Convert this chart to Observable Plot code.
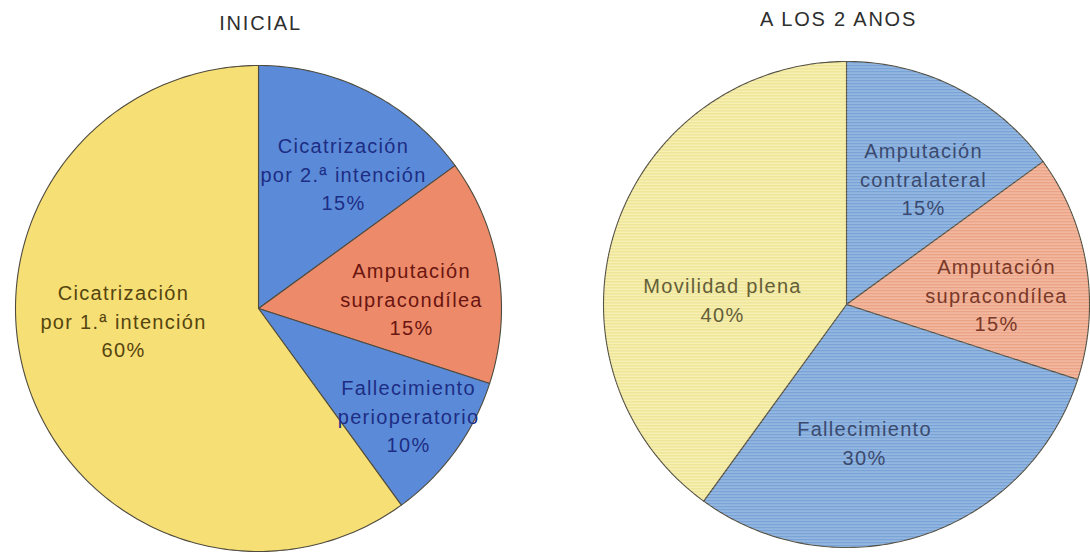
<!DOCTYPE html>
<html>
<head>
<meta charset="utf-8">
<script src="https://cdn.jsdelivr.net/npm/d3@7"></script>
<script src="https://cdn.jsdelivr.net/npm/@observablehq/plot@0.6"></script>
<style>
  html, body { margin: 0; padding: 0; background: #ffffff; }
  #chart svg { display: block; }
</style>
</head>
<body>
<div id="chart"></div>
<script>
// Pie titles
const titles = ["INICIAL", "A LOS 2 ANOS"];

// Initial outcome (slices clockwise from 12 o'clock)
const inicialLabels = [
  "Cicatrización\npor 2.ª intención",
  "Amputación\nsupracondílea",
  "Fallecimiento\nperioperatorio",
  "Cicatrización\npor 1.ª intención"
];
const inicialValues = [15, 15, 10, 60];

// Outcome after two years (slices clockwise from 12 o'clock)
const dosAnosLabels = [
  "Amputación\ncontralateral",
  "Amputación\nsupracondílea",
  "Fallecimiento",
  "Movilidad plena"
];
const dosAnosValues = [15, 15, 30, 40];

// ---- styling and layout ----
const W = 1090, H = 558;
const R = 243;                                  // pie radius, px
const pieCenters = [[258, 308], [846, 304]];    // px
const sliceFills = [
  ["#5b8bd8", "#ec8a69", "#5b8bd8", "#f6df74"],
  ["#7ea9de", "#f2a98a", "#7ea9de", "#f6ed9e"]
];
const labelInk = [
  ["#1d2d84", "#6a1510", "#1d2d84", "#55440f"],
  ["#3a4a6e", "#7a3828", "#3a4a6e", "#645e38"]
];
// label block centres, px offset from pie centre
const labelOffsets = [
  [[85, -136], [153, -11], [150, 106], [-135, 11]],
  [[77, -127], [150, -11], [18, 137], [-124, -6]]
];
const titleOffsets = [[2, -285], [-8, -285]];
const labelTracking = "1.3px";
const titleTracking = "1.8px";

// 1 unit = R px, origin at the centre of the first pie, y up
const toUnits = ([px, py]) => [(px - pieCenters[0][0]) / R, (pieCenters[0][1] - py) / R];
const xDomain = [toUnits([0, 0])[0], toUnits([W, 0])[0]];
const yDomain = [toUnits([0, H])[1], toUnits([0, 0])[1]];

const pies = [
  {title: titles[0], labels: inicialLabels, values: inicialValues},
  {title: titles[1], labels: dosAnosLabels, values: dosAnosValues}
];

const slicePts = [];
const labelRows = [];
const titleRows = [];
pies.forEach((p, i) => {
  const [cx, cy] = toUnits(pieCenters[i]);
  const total = d3.sum(p.values);
  const arcs = d3.pie().sort(null)(p.values);
  arcs.forEach((a, j) => {
    const id = `${i}-${j}`;
    const fill = sliceFills[i][j];
    const steps = Math.max(2, Math.ceil((a.endAngle - a.startAngle) / (Math.PI / 180)));
    slicePts.push({id, pie: i, fill, x: cx, y: cy});
    for (let k = 0; k <= steps; ++k) {
      const t = a.startAngle + (a.endAngle - a.startAngle) * k / steps;
      slicePts.push({id, pie: i, fill, x: cx + Math.sin(t), y: cy + Math.cos(t)});
    }
    slicePts.push({id, pie: i, fill, x: cx, y: cy});
    const [dx, dy] = labelOffsets[i][j];
    labelRows.push({
      x: cx + dx / R,
      y: cy - dy / R,
      ink: labelInk[i][j],
      text: `${p.labels[j]}\n${Math.round(100 * p.values[j] / total)}%`
    });
  });
  const [tx, ty] = titleOffsets[i];
  titleRows.push({x: cx + tx / R, y: cy - ty / R, text: p.title});
});

// fine horizontal print lines used on the second pie
const scanPattern = () => {
  const defs = d3.create("svg:defs");
  const pat = defs.append("pattern")
    .attr("id", "scanlines")
    .attr("patternUnits", "userSpaceOnUse")
    .attr("width", 6).attr("height", 3);
  pat.append("rect").attr("width", 6).attr("height", 1).attr("fill", "#ffffff").attr("fill-opacity", 0.32);
  pat.append("rect").attr("y", 2).attr("width", 6).attr("height", 1).attr("fill", "#000000").attr("fill-opacity", 0.06);
  return defs.node();
};

const chart = Plot.plot({
  width: W,
  height: H,
  margin: 0,
  x: {domain: xDomain, axis: null},
  y: {domain: yDomain, axis: null},
  color: {type: "identity"},
  style: {background: "#ffffff", fontFamily: "'Liberation Sans', Arial, sans-serif"},
  marks: [
    scanPattern,
    Plot.line(slicePts, {
      x: "x", y: "y", z: "id",
      fill: "fill",
      stroke: "#4f4b3e",
      strokeWidth: 1.1,
      strokeLinejoin: "round",
      curve: "linear"
    }),
    Plot.line(slicePts, {
      filter: (d) => d.pie === 1,
      x: "x", y: "y", z: "id",
      fill: "url(#scanlines)",
      stroke: "none",
      curve: "linear"
    }),
    Plot.text(labelRows, {
      x: "x", y: "y", text: "text",
      fill: "ink",
      fontSize: 20,
      lineHeight: 1.42,
      textAnchor: "middle",
      lineAnchor: "middle"
    }),
    Plot.text(titleRows, {
      x: "x", y: "y", text: "text",
      fill: "#2e2e2e",
      fontSize: 20,
      textAnchor: "middle",
      lineAnchor: "middle"
    })
  ]
});

// widen the tracking of the two text layers (labels first, then titles)
const textLayers = chart.querySelectorAll('g[aria-label="text"]');
if (textLayers[0]) textLayers[0].style.letterSpacing = labelTracking;
if (textLayers[1]) textLayers[1].style.letterSpacing = titleTracking;

document.getElementById("chart").appendChild(chart);
</script>
</body>
</html>
